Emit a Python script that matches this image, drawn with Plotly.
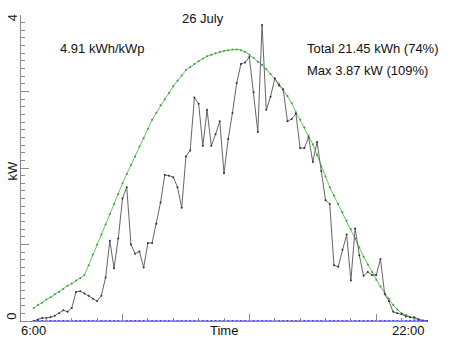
import plotly.graph_objects as go

# 10-minute samples from 6:30 to 22:00 (decimal hours)
start_hour = 6.5
step_hours = 1 / 6
n_samples = 94
hours = [start_hour + i * step_hours for i in range(n_samples)]

# Measured AC power (kW)
power_kw = [
    0.00, 0.02, 0.04, 0.04, 0.05, 0.07, 0.10, 0.14, 0.12, 0.17,
    0.38, 0.39, 0.36, 0.33, 0.29, 0.26, 0.33, 0.57, 1.05, 0.69,
    1.08, 1.60, 1.75, 1.00, 0.88, 0.91, 0.70, 1.02, 1.02, 1.27,
    1.55, 1.91, 1.90, 1.88, 1.75, 1.48, 2.15, 2.23, 2.92, 2.84,
    2.29, 2.76, 2.29, 2.44, 2.61, 1.93, 2.38, 2.72, 3.11, 3.36,
    3.38, 3.45, 2.99, 2.47, 3.87, 2.76, 2.93, 3.17, 3.08, 3.03,
    2.61, 2.64, 2.71, 2.26, 2.26, 2.40, 2.08, 2.34, 1.96, 1.58,
    1.53, 0.73, 0.71, 0.93, 1.13, 0.53, 1.21, 0.86, 0.59, 0.64,
    0.60, 0.60, 0.81, 0.35, 0.26, 0.12, 0.10, 0.09, 0.06, 0.05,
    0.05, 0.02, 0.00, 0.00,
]

# Expected clear-sky power (kW)
clear_sky_kw = [
    0.17, 0.21, 0.24, 0.28, 0.31, 0.35, 0.38, 0.42, 0.46, 0.49,
    0.53, 0.56, 0.60, 0.73, 0.87, 1.00, 1.13, 1.26, 1.40, 1.53,
    1.66, 1.80, 1.92, 2.04, 2.15, 2.28, 2.39, 2.51, 2.63, 2.72,
    2.82, 2.90, 2.98, 3.07, 3.14, 3.21, 3.28, 3.32, 3.36, 3.40,
    3.43, 3.46, 3.48, 3.50, 3.52, 3.53, 3.54, 3.55, 3.55, 3.54,
    3.52, 3.48, 3.44, 3.39, 3.35, 3.29, 3.23, 3.17, 3.10, 3.02,
    2.94, 2.85, 2.73, 2.63, 2.53, 2.42, 2.31, 2.17, 2.02, 1.89,
    1.75, 1.64, 1.53, 1.42, 1.31, 1.20, 1.08, 0.96, 0.84, 0.74,
    0.64, 0.54, 0.45, 0.37, 0.29, 0.21, 0.15, 0.10, 0.08, 0.05,
    0.03, 0.02, 0.01, 0.00,
]

# Error / fault flag channel (all zero this day)
fault_kw = [0.0] * n_samples

# Axis ticks
x_major_ticks = [10, 15, 20]
x_minor_ticks = list(range(6, 23))
y_major_ticks = [0, 1, 2, 3, 4]
y_minor_ticks = [i / 10 for i in range(41)]

title_text = "26 July"
yield_text = "4.91 kWh/kWp"
total_text = "Total 21.45 kWh (74%)"
max_text = "Max 3.87 kW (109%)"
x_start_label = "6:00"
x_end_label = "22:00"
x_title = "Time"
y_title = "kW"
y_low_label = "0"
y_high_label = "4"

FONT = "Liberation Sans, Arial, sans-serif"
AXIS_GREY = "#8a8a8a"

fig = go.Figure()

fig.add_trace(go.Scatter(
    x=hours, y=clear_sky_kw, mode="lines+markers",
    line=dict(color="#66c466", width=1),
    marker=dict(color="#3a9a3a", size=2),
    cliponaxis=False, showlegend=False,
))
fig.add_trace(go.Scatter(
    x=hours, y=power_kw, mode="lines+markers",
    line=dict(color="#666666", width=1),
    marker=dict(color="#333333", size=2),
    cliponaxis=False, showlegend=False,
))
fig.add_trace(go.Scatter(
    x=hours, y=fault_kw, mode="lines+markers",
    line=dict(color="#5a5aff", width=1),
    marker=dict(color="#3030ff", size=2),
    cliponaxis=False, showlegend=False,
))

fig.update_layout(
    width=452, height=339,
    margin=dict(l=21, r=25, t=15, b=18, pad=0),
    paper_bgcolor="white", plot_bgcolor="white",
    font=dict(family=FONT, size=13, color="#111111"),
    xaxis=dict(
        range=[6, 22], showgrid=False, zeroline=False,
        showline=True, linecolor=AXIS_GREY, linewidth=1,
        ticks="inside", tickmode="array", tickvals=x_major_ticks, ticklen=7,
        tickcolor=AXIS_GREY, tickwidth=1, showticklabels=False,
        minor=dict(tickmode="array", tickvals=x_minor_ticks, ticks="inside",
                   ticklen=3, tickcolor=AXIS_GREY, tickwidth=1, showgrid=False),
    ),
    yaxis=dict(
        range=[0, 4], showgrid=False, zeroline=False,
        showline=True, linecolor=AXIS_GREY, linewidth=1,
        ticks="inside", tickmode="array", tickvals=y_major_ticks, ticklen=8,
        tickcolor=AXIS_GREY, tickwidth=1, showticklabels=False,
        minor=dict(tickmode="array", tickvals=y_minor_ticks, ticks="inside",
                   ticklen=4, tickcolor=AXIS_GREY, tickwidth=1, showgrid=False),
    ),
)

font = dict(family=FONT, size=13, color="#111111")
# Text inside the plot area, positioned in data units
for text, x, y, anchor in [
    (title_text, 13.17, 3.95, "center"),
    (yield_text, 9.23, 3.56, "center"),
    (total_text, 17.2, 3.56, "left"),
    (max_text, 17.2, 3.27, "left"),
]:
    fig.add_annotation(text=text, x=x, y=y, xref="x", yref="y", showarrow=False,
                       xanchor=anchor, yanchor="middle", font=font)

# Axis labels outside the plot area, positioned in paper units
for text, x, y, anchor, angle in [
    (x_start_label, -0.004, -0.03, "left", 0),
    (x_end_label, 1.0, -0.03, "right", 0),
    (x_title, 0.5, -0.03, "center", 0),
    (y_title, -0.021, 0.493, "center", -90),
    (y_low_label, -0.022, 0.014, "center", -90),
    (y_high_label, -0.022, 0.99, "center", -90),
]:
    fig.add_annotation(text=text, x=x, y=y, xref="paper", yref="paper", showarrow=False,
                       xanchor=anchor, yanchor="middle", textangle=angle, font=font)

fig.write_html("out.html")
